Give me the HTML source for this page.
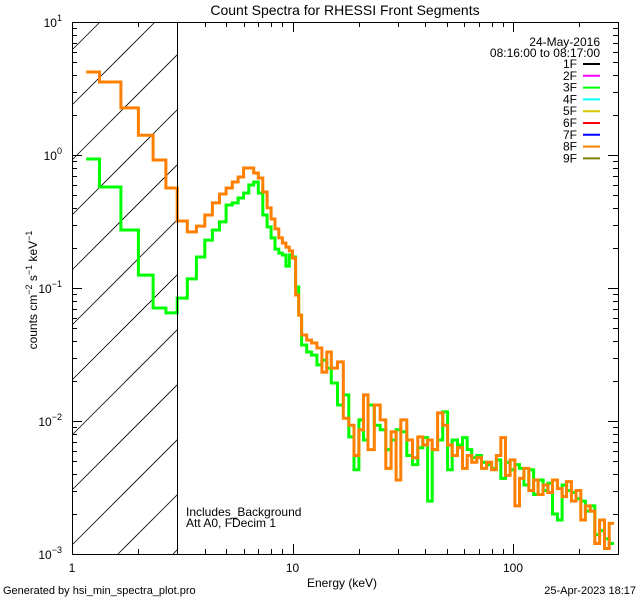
<!DOCTYPE html>
<html><head><meta charset="utf-8"><style>
html,body{margin:0;padding:0;background:#fff;width:640px;height:600px;overflow:hidden}
svg{display:block;font-family:"Liberation Sans",sans-serif}
text{fill:#000}
</style></head><body>
<svg id="chart" width="640" height="600" viewBox="0 0 640 600" xmlns="http://www.w3.org/2000/svg">
<rect width="640" height="600" fill="#fff"/>
<text x="345" y="15" font-size="14" text-anchor="middle">Count Spectra for RHESSI Front Segments</text>
<g id="hatch"></g>
<g id="axes" shape-rendering="crispEdges"></g>
<g id="series"></g>
<text transform="translate(37,290) rotate(-90)" font-size="12" text-anchor="middle">counts cm<tspan font-size="9" dy="-5">−2</tspan><tspan dy="5"> s</tspan><tspan font-size="9" dy="-5">−1</tspan><tspan dy="5"> keV</tspan><tspan font-size="9" dy="-5">−1</tspan></text>
<text x="342" y="587" font-size="12" text-anchor="middle">Energy (keV)</text>
<text x="3" y="594" font-size="11">Generated by hsi_min_spectra_plot.pro</text>
<text x="636" y="594" font-size="11" text-anchor="end">25-Apr-2023 18:17</text>
<text x="186" y="516" font-size="12">Includes_Background</text>
<text x="186" y="527" font-size="12">Att A0, FDecim 1</text>
<text x="600" y="46" font-size="12" text-anchor="end">24-May-2016</text>
<text x="600" y="57" font-size="12" text-anchor="end">08:16:00 to 08:17:00</text>
<g id="legend"></g>
</svg>
<script>
const edges=[1.16,1.333,1.667,2,2.333,2.667,3,3.333,3.667,4,4.333,4.667,5,5.333,5.667,6,6.333,6.667,7,7.333,7.667,8,8.333,8.667,9,9.333,9.667,10,10.333,10.667,11,
11.6,12.2,12.9,13.6,14.3,15,16,17,18,19,20,21,22,23.5,25,26.5,28,29.5,31,33,35,37,39,41,43,45.5,48,50.5,53,56,59,62,65,68.5,72,76,80,84,88,92.5,97,102,107,112,118,124,130,137,144,151,159,167,175,184,193,203,213,224,235,247,260,273,287];
const seg3F=[0.933,0.575,0.273,0.125,0.0707,0.0650,
0.084,0.117,0.171,0.229,0.273,0.314,0.421,0.436,0.475,0.518,0.595,0.627,0.518,0.354,0.288,0.238,0.196,0.183,0.177,0.146,0.177,0.171,0.102,0.0626,
.0373,.0330,.0313,.0264,.0287,.0250,.0193,.0132,.0157,.0076,.0043,.0102,.0072,.0132,.0093,.0086,.0061,.0072,.0086,.0083,.0055,.0047,.0063,.0075,.0025,.0061,.0072,.0117,.0043,.0072,.0066,.0075,.0061,.0053,.0055,.0049,.0047,.0044,.0051,.0037,.0049,.0043,.0047,.0044,.0033,.0043,.0028,.0036,.0030,.0034,.0020,.0018,.0033,.0030,.0029,.0026,.0025,.0021,.0023,.0014,.0015,.0013,.0012];
const seg8F=[4.21,3.54,2.26,1.41,0.917,0.565,
0.319,0.264,0.292,0.354,0.436,0.509,0.565,0.627,0.683,0.799,0.799,0.732,0.671,0.527,0.400,0.330,0.278,0.238,0.218,0.203,0.190,0.168,0.0886,0.0626,
.0443,.0406,.0386,.0354,.0233,.0330,.0250,.0278,.0105,.0093,.0055,.0086,.0157,.0061,.0132,.0102,.0044,.0083,.0036,.0102,.0072,.0053,.0076,.0066,.0072,.0061,.0115,.0093,.0066,.0055,.0063,.0044,.0055,.0049,.0053,.0044,.0049,.0043,.0055,.0075,.0039,.0051,.0023,.0037,.0044,.0030,.0036,.0028,.0033,.0029,.0036,.0031,.0027,.0035,.0025,.0030,.0018,.0023,.0021,.0012,.0018,.0011,.0017];
const xTickLabels=["1","10","100"];
const yTickExps=["1","0","−1","−2","−3"];
const legendLabels=["1F","2F","3F","4F","5F","6F","7F","8F","9F"];
const legendColors=["#000000","#ff00ff","#00ff00","#00ffff","#d8c800","#ff0000","#0000ff","#ff8000","#808000"];

const NS="http://www.w3.org/2000/svg";
const L=72,R=618,T=22,B=554;
const xDec=220.5,yDec=133;
function X(e){return L+xDec*Math.log10(e);}
function Y(v){return T+yDec*(1-Math.log10(v));}
function mk(tag,attrs,parent){const el=document.createElementNS(NS,tag);for(const k in attrs)el.setAttribute(k,attrs[k]);parent.appendChild(el);return el;}

const defs=mk('defs',{},document.getElementById('chart'));
const cp=mk('clipPath',{id:'plotclip'},defs);
mk('rect',{x:L,y:T,width:R-L,height:B-T},cp);

// hatch: lines y + x = k, clipped manually to [L,X3]x[T,B]
const hatch=document.getElementById('hatch');
const X3=X(3);
for(let k=T+L+28;k<B+X3;k+=55){
  let x1=Math.max(L,k-B), x2=Math.min(X3,k-T);
  if(x2<=x1)continue;
  const ln=mk('line',{x1:x1,y1:k-x1,x2:x2,y2:k-x2,stroke:'#000','stroke-width':0.8},hatch);
  
  
}
const tx=Math.round(X3)+0.5;
const vl=mk('line',{x1:tx,y1:T,x2:tx,y2:B,stroke:'#000','stroke-width':1,'shape-rendering':'crispEdges'},document.getElementById('chart'));



const axes=document.getElementById('axes');
const frame=mk('rect',{x:L+0.5,y:T+0.5,width:R-L,height:B-T,fill:'none',stroke:'#000','stroke-width':1},axes);


for(let d=0;d<3;d++){
  for(let m=1;m<10;m++){
    const e=Math.pow(10,d)*m; if(e>300)break;
    const x=Math.round(X(e))+0.5; const len=m===1?10:5;
    mk('line',{x1:x,y1:B,x2:x,y2:B-len,stroke:'#000'},axes);
    mk('line',{x1:x,y1:T,x2:x,y2:T+len,stroke:'#000'},axes);
  }
  const t=mk('text',{x:X(Math.pow(10,d)),y:572,'font-size':12,'text-anchor':'middle'},axes);
  t.textContent=xTickLabels[d];
  
  
}
for(let d=-3;d<=1;d++){
  for(let m=1;m<10;m++){
    const v=Math.pow(10,d)*m; if(v>10.001)break;
    const y=Math.round(Y(v))+0.5; const len=m===1?10:5;
    mk('line',{x1:L,y1:y,x2:L+len,y2:y,stroke:'#000'},axes);
    mk('line',{x1:R,y1:y,x2:R-len,y2:y,stroke:'#000'},axes);
  }
  const t=mk('text',{x:62,y:Y(Math.pow(10,d))+5,'font-size':12,'text-anchor':'end'},axes);
  
  
  t.appendChild(document.createTextNode('10'));
  const sp=mk('tspan',{'font-size':9,dy:-6},t); sp.textContent=yTickExps[1-d];
}

const series=document.getElementById('series');
series.setAttribute('clip-path','url(#plotclip)');
function stepPath(vals){
  let d='M'+X(edges[0]).toFixed(1)+' '+Y(vals[0]).toFixed(1);
  for(let i=0;i<vals.length;i++){
    if(i>0)d+=' V'+Y(vals[i]).toFixed(1);
    d+=' H'+X(edges[i+1]).toFixed(1);
  }
  return d;
}
const g3=mk('path',{d:stepPath(seg3F),fill:'none',stroke:'#00ff00','stroke-width':3,'stroke-linejoin':'miter'},series);


const g8=mk('path',{d:stepPath(seg8F),fill:'none',stroke:'#ff8000','stroke-width':3,'stroke-linejoin':'miter'},series);



const lg=document.getElementById('legend');
legendLabels.forEach((lab,i)=>{
  const y=64+i*11.8;
  const t=mk('text',{x:577,y:y+4,'font-size':12,'text-anchor':'end'},lg);
  t.textContent=lab;
  
  
  const ln=mk('line',{x1:583,y1:y,x2:600,y2:y,stroke:legendColors[i],'stroke-width':2},lg);
  
  
});
</script>
</body></html>
